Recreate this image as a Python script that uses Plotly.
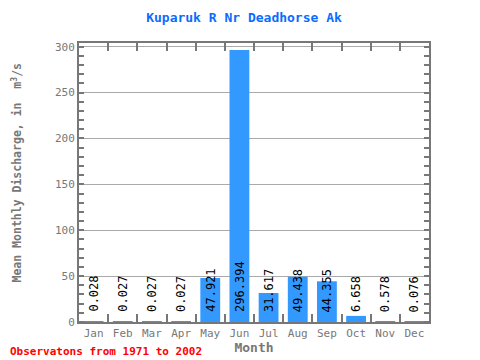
import plotly.graph_objects as go

months = ["Jan", "Feb", "Mar", "Apr", "May", "Jun", "Jul", "Aug", "Sep", "Oct", "Nov", "Dec"]
values = [0.028, 0.027, 0.027, 0.027, 47.921, 296.394, 31.617, 49.438, 44.355, 6.658, 0.578, 0.076]
labels = ["0.028", "0.027", "0.027", "0.027", "47.921", "296.394", "31.617", "49.438", "44.355", "6.658", "0.578", "0.076"]
yticks = [0, 50, 100, 150, 200, 250, 300]

FONT = "DejaVu Sans Mono"
GRAY = "#777777"

fig = go.Figure()
fig.add_trace(go.Bar(x=months, y=values, marker=dict(color="#3399FF", line=dict(width=0)),
                     width=0.68, hoverinfo="skip"))

for m, v, t in zip(months, values, labels):
    fig.add_annotation(x=m, y=0, text=t, textangle=-90, showarrow=False,
                       yanchor="bottom", xanchor="center", yshift=8,
                       font=dict(family=FONT, size=12, color="black"))

fig.add_annotation(xref="paper", yref="paper", x=-0.203, y=-0.1075, xanchor="left", yanchor="middle",
                   text="<b>Observatons from 1971 to 2002</b>", showarrow=False,
                   font=dict(family=FONT, size=11, color="red"))

fig.add_annotation(xref="paper", yref="paper", x=-0.177, y=0.536, xanchor="center", yanchor="middle",
                   textangle=-90, showarrow=False,
                   text="<b>Mean Monthly Discharge, in  m<sup>3</sup>/s</b>",
                   font=dict(family=FONT, size=11.5, color=GRAY))

fig.update_layout(
    width=472, height=352,
    margin=dict(l=71, r=51, t=35, b=38),
    paper_bgcolor="white", plot_bgcolor="white",
    showlegend=False,
    title=dict(text="<b>Kuparuk R Nr Deadhorse Ak</b>", x=0.5, xanchor="center", y=0.974, yanchor="middle",
               font=dict(family=FONT, size=13, color="#0a6cff")),
    bargap=0.3,
)
fig.update_xaxes(showline=True, linewidth=2, linecolor=GRAY, mirror="ticks",
                 ticks="inside", ticklen=8, tickwidth=2, tickcolor=GRAY,
                 tickson="boundaries", tickangle=0, automargin=False,
                 tickfont=dict(family=FONT, size=11, color=GRAY),
                 title=dict(text="<b>Month</b>", font=dict(family=FONT, size=13, color=GRAY), standoff=3),
                 showgrid=False)
fig.update_yaxes(range=[0, 304], showline=True, linewidth=2, linecolor=GRAY, mirror="ticks",
                 tickvals=yticks, ticks="", automargin=False,
                 minor=dict(dtick=10, ticks="inside", ticklen=5, tickwidth=2, tickcolor=GRAY, showgrid=False),
                 tickfont=dict(family=FONT, size=11, color=GRAY),
                 showgrid=True, gridcolor="#aaaaaa", gridwidth=1,
                 zeroline=False)

fig.write_html("out.html")
